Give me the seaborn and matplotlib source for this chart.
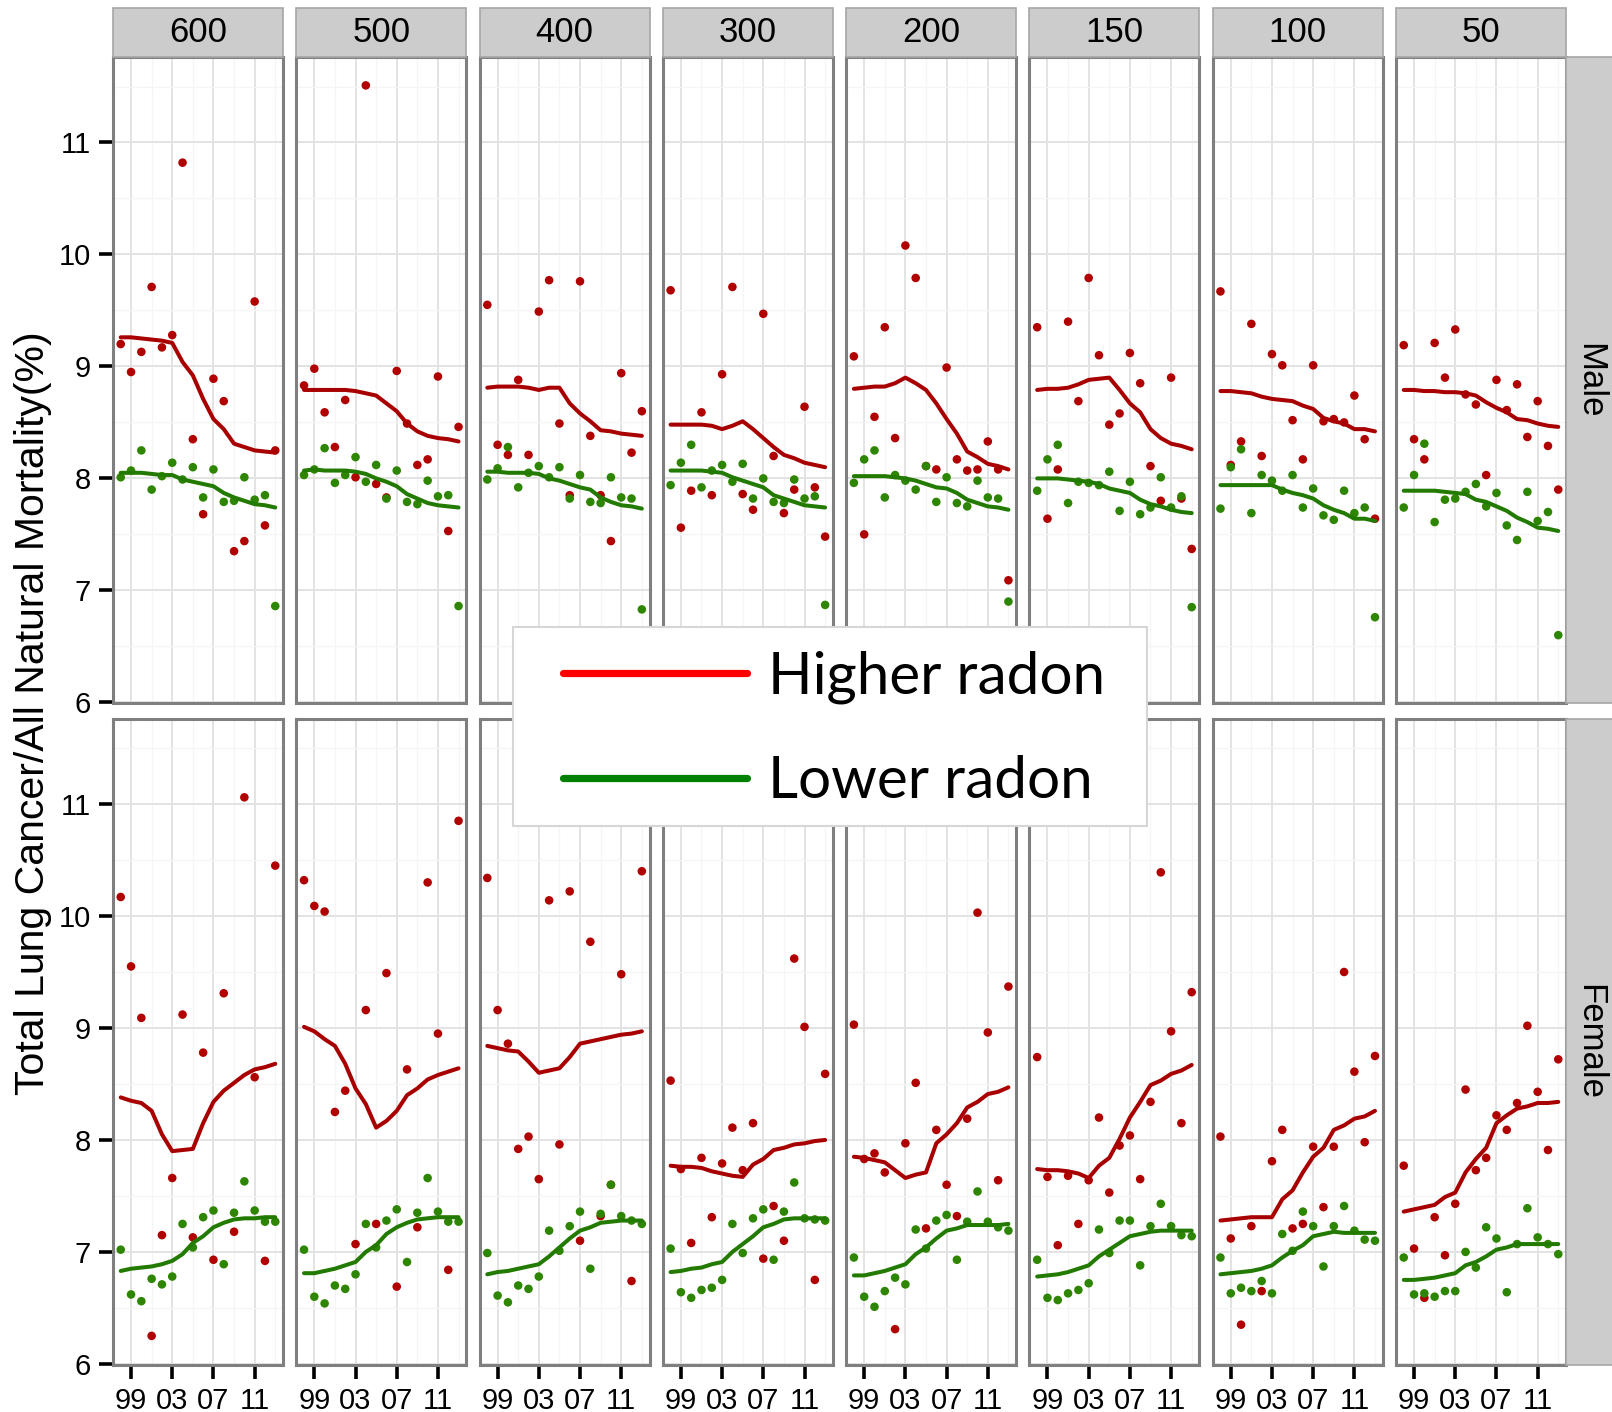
import matplotlib
matplotlib.use("Agg")
import pandas as pd
import matplotlib.pyplot as plt
from matplotlib.patches import Rectangle
from matplotlib.lines import Line2D
import seaborn as sns

sns.set_style("white", rc={"xtick.bottom": True, "ytick.left": True,
                           "text.color": "black", "xtick.color": "black",
                           "ytick.color": "black", "axes.labelcolor": "black"})
plt.rcParams["font.family"] = ["Liberation Sans", "DejaVu Sans"]

years = list(range(1998, 2014))
levels = ["600", "500", "400", "300", "200", "150", "100", "50"]
sexes = ["Male", "Female"]
groups = ["Higher radon", "Lower radon"]
xtick_years = [1999, 2003, 2007, 2011]
xtick_labels = ["99", "03", "07", "11"]
yticks = [6, 7, 8, 9, 10, 11]

# yearly values, one row per radon level (600 ... 50)
male_high_pts = [
    [9.20, 8.95, 9.13, 9.71, 9.17, 9.28, 10.82, 8.35, 7.68, 8.89, 8.69, 7.35, 7.44, 9.58, 7.58, 8.25],
    [8.83, 8.98, 8.59, 8.28, 8.70, 8.01, 11.51, 7.95, 7.83, 8.96, 8.49, 8.12, 8.17, 8.91, 7.53, 8.46],
    [9.55, 8.30, 8.21, 8.88, 8.21, 9.49, 9.77, 8.49, 7.85, 9.76, 8.38, 7.85, 7.44, 8.94, 8.23, 8.60],
    [9.68, 7.56, 7.89, 8.59, 7.85, 8.93, 9.71, 7.86, 7.72, 9.47, 8.20, 7.69, 7.90, 8.64, 7.92, 7.48],
    [9.09, 7.50, 8.55, 9.35, 8.36, 10.08, 9.79, 8.11, 8.08, 8.99, 8.17, 8.07, 8.08, 8.33, 8.08, 7.09],
    [9.35, 7.64, 8.08, 9.40, 8.69, 9.79, 9.10, 8.48, 8.58, 9.12, 8.85, 8.11, 7.80, 8.90, 7.82, 7.37],
    [9.67, 8.12, 8.33, 9.38, 8.20, 9.11, 9.01, 8.52, 8.17, 9.01, 8.51, 8.53, 8.50, 8.74, 8.35, 7.64],
    [9.19, 8.35, 8.17, 9.21, 8.90, 9.33, 8.75, 8.66, 8.03, 8.88, 8.61, 8.84, 8.37, 8.69, 8.29, 7.90],
]
male_low_pts = [
    [8.01, 8.07, 8.25, 7.90, 8.02, 8.14, 7.99, 8.10, 7.83, 8.08, 7.79, 7.80, 8.01, 7.81, 7.85, 6.86],
    [8.03, 8.08, 8.27, 7.96, 8.03, 8.19, 7.97, 8.12, 7.82, 8.07, 7.79, 7.77, 7.98, 7.84, 7.85, 6.86],
    [7.99, 8.09, 8.28, 7.92, 8.05, 8.11, 8.01, 8.10, 7.82, 8.03, 7.79, 7.78, 8.01, 7.83, 7.82, 6.83],
    [7.94, 8.14, 8.30, 7.92, 8.07, 8.12, 7.97, 8.13, 7.82, 8.00, 7.79, 7.78, 7.99, 7.82, 7.84, 6.87],
    [7.96, 8.17, 8.25, 7.83, 8.03, 7.98, 7.90, 8.11, 7.79, 8.01, 7.78, 7.75, 7.98, 7.83, 7.82, 6.90],
    [7.89, 8.17, 8.30, 7.78, 7.97, 7.96, 7.94, 8.06, 7.71, 7.97, 7.68, 7.74, 8.01, 7.74, 7.84, 6.85],
    [7.73, 8.10, 8.26, 7.69, 8.03, 7.98, 7.89, 8.03, 7.74, 7.91, 7.67, 7.63, 7.89, 7.69, 7.74, 6.76],
    [7.74, 8.03, 8.31, 7.61, 7.81, 7.82, 7.88, 7.95, 7.75, 7.87, 7.58, 7.45, 7.88, 7.62, 7.70, 6.60],
]
male_high_line = [
    [9.26, 9.26, 9.25, 9.24, 9.23, 9.21, 9.04, 8.92, 8.71, 8.53, 8.44, 8.31, 8.28, 8.25, 8.24, 8.23],
    [8.79, 8.79, 8.79, 8.79, 8.79, 8.78, 8.76, 8.74, 8.67, 8.60, 8.49, 8.42, 8.38, 8.36, 8.35, 8.33],
    [8.81, 8.82, 8.82, 8.82, 8.81, 8.79, 8.81, 8.81, 8.67, 8.58, 8.51, 8.43, 8.42, 8.40, 8.39, 8.38],
    [8.48, 8.48, 8.48, 8.48, 8.47, 8.44, 8.47, 8.51, 8.44, 8.36, 8.28, 8.21, 8.18, 8.14, 8.12, 8.10],
    [8.80, 8.81, 8.82, 8.82, 8.85, 8.90, 8.85, 8.79, 8.67, 8.53, 8.40, 8.24, 8.19, 8.13, 8.11, 8.08],
    [8.79, 8.80, 8.80, 8.81, 8.84, 8.88, 8.89, 8.90, 8.79, 8.67, 8.59, 8.44, 8.36, 8.31, 8.29, 8.26],
    [8.78, 8.78, 8.77, 8.76, 8.73, 8.71, 8.70, 8.69, 8.65, 8.62, 8.54, 8.51, 8.49, 8.44, 8.44, 8.42],
    [8.79, 8.79, 8.78, 8.78, 8.77, 8.77, 8.76, 8.74, 8.68, 8.63, 8.59, 8.53, 8.52, 8.49, 8.47, 8.46],
]
male_low_line = [
    [8.05, 8.05, 8.05, 8.04, 8.03, 8.03, 7.99, 7.97, 7.95, 7.93, 7.87, 7.83, 7.80, 7.77, 7.76, 7.74],
    [8.07, 8.08, 8.07, 8.07, 8.07, 8.06, 8.04, 8.00, 7.97, 7.93, 7.86, 7.82, 7.78, 7.76, 7.75, 7.74],
    [8.06, 8.06, 8.05, 8.05, 8.05, 8.04, 8.00, 7.98, 7.95, 7.92, 7.90, 7.83, 7.79, 7.76, 7.75, 7.73],
    [8.07, 8.07, 8.07, 8.07, 8.06, 8.05, 8.01, 7.98, 7.95, 7.92, 7.85, 7.82, 7.79, 7.76, 7.75, 7.74],
    [8.02, 8.02, 8.02, 8.02, 8.01, 8.00, 7.98, 7.95, 7.92, 7.91, 7.87, 7.81, 7.78, 7.75, 7.74, 7.72],
    [8.00, 8.00, 8.00, 7.99, 7.98, 7.97, 7.95, 7.91, 7.89, 7.87, 7.81, 7.77, 7.75, 7.72, 7.70, 7.69],
    [7.94, 7.94, 7.94, 7.94, 7.94, 7.94, 7.90, 7.87, 7.85, 7.82, 7.76, 7.72, 7.69, 7.64, 7.64, 7.62],
    [7.89, 7.89, 7.89, 7.89, 7.88, 7.87, 7.86, 7.81, 7.79, 7.75, 7.71, 7.65, 7.61, 7.56, 7.55, 7.53],
]
female_high_pts = [
    [10.17, 9.55, 9.09, 6.25, 7.15, 7.66, 9.12, 7.13, 8.78, 6.93, 9.31, 7.18, 11.06, 8.56, 6.92, 10.45],
    [10.32, 10.09, 10.04, 8.25, 8.44, 7.07, 9.16, 7.25, 9.49, 6.69, 8.63, 7.22, 10.30, 8.95, 6.84, 10.85],
    [10.34, 9.16, 8.86, 7.92, 8.03, 7.65, 10.14, 7.96, 10.22, 7.10, 9.77, 7.32, 7.60, 9.48, 6.74, 10.40],
    [8.53, 7.74, 7.08, 7.84, 7.31, 7.79, 8.11, 7.73, 8.15, 6.94, 7.41, 7.10, 9.62, 9.01, 6.75, 8.59],
    [9.03, 7.83, 7.88, 7.71, 6.31, 7.97, 8.51, 7.21, 8.09, 7.60, 7.32, 8.19, 10.03, 8.96, 7.64, 9.37],
    [8.74, 7.67, 7.06, 7.68, 7.25, 7.64, 8.20, 7.53, 7.95, 8.04, 7.65, 8.34, 10.39, 8.97, 8.15, 9.32],
    [8.03, 7.12, 6.35, 7.23, 6.65, 7.81, 8.09, 7.21, 7.25, 7.94, 7.40, 7.94, 9.50, 8.61, 7.98, 8.75],
    [7.77, 7.03, 6.59, 7.31, 6.97, 7.43, 8.45, 7.73, 7.84, 8.22, 8.09, 8.33, 9.02, 8.43, 7.91, 8.72],
]
female_low_pts = [
    [7.02, 6.62, 6.56, 6.76, 6.71, 6.78, 7.25, 7.04, 7.31, 7.37, 6.89, 7.35, 7.63, 7.37, 7.27, 7.27],
    [7.02, 6.60, 6.54, 6.70, 6.67, 6.80, 7.25, 7.04, 7.28, 7.38, 6.91, 7.35, 7.66, 7.36, 7.27, 7.27],
    [6.99, 6.61, 6.55, 6.70, 6.67, 6.78, 7.19, 7.01, 7.23, 7.36, 6.85, 7.34, 7.60, 7.32, 7.28, 7.25],
    [7.03, 6.64, 6.59, 6.66, 6.68, 6.75, 7.25, 6.99, 7.30, 7.38, 6.93, 7.36, 7.62, 7.30, 7.29, 7.28],
    [6.95, 6.60, 6.51, 6.65, 6.77, 6.71, 7.20, 7.03, 7.28, 7.33, 6.93, 7.27, 7.54, 7.27, 7.22, 7.19],
    [6.93, 6.59, 6.57, 6.63, 6.66, 6.72, 7.20, 6.99, 7.28, 7.28, 6.88, 7.23, 7.43, 7.23, 7.15, 7.14],
    [6.95, 6.63, 6.68, 6.65, 6.74, 6.63, 7.16, 7.01, 7.36, 7.23, 6.87, 7.23, 7.41, 7.19, 7.11, 7.10],
    [6.95, 6.62, 6.63, 6.60, 6.65, 6.65, 7.00, 6.86, 7.22, 7.12, 6.64, 7.07, 7.39, 7.13, 7.07, 6.98],
]
female_high_line = [
    [8.38, 8.35, 8.33, 8.26, 8.05, 7.90, 7.91, 7.92, 8.15, 8.34, 8.44, 8.51, 8.58, 8.63, 8.65, 8.68],
    [9.01, 8.97, 8.90, 8.84, 8.68, 8.46, 8.32, 8.11, 8.17, 8.26, 8.40, 8.46, 8.54, 8.58, 8.61, 8.64],
    [8.84, 8.82, 8.80, 8.79, 8.70, 8.60, 8.62, 8.64, 8.74, 8.86, 8.88, 8.90, 8.92, 8.94, 8.95, 8.97],
    [7.77, 7.76, 7.76, 7.75, 7.72, 7.70, 7.68, 7.67, 7.78, 7.83, 7.91, 7.93, 7.96, 7.97, 7.99, 8.00],
    [7.85, 7.84, 7.82, 7.80, 7.73, 7.66, 7.69, 7.71, 7.97, 8.05, 8.15, 8.29, 8.34, 8.41, 8.43, 8.47],
    [7.74, 7.73, 7.73, 7.72, 7.70, 7.66, 7.77, 7.84, 8.01, 8.20, 8.34, 8.49, 8.53, 8.59, 8.62, 8.67],
    [7.28, 7.29, 7.30, 7.31, 7.31, 7.31, 7.47, 7.55, 7.71, 7.85, 7.93, 8.09, 8.13, 8.19, 8.21, 8.26],
    [7.36, 7.38, 7.40, 7.42, 7.49, 7.53, 7.71, 7.83, 7.93, 8.15, 8.22, 8.28, 8.30, 8.33, 8.33, 8.34],
]
female_low_line = [
    [6.83, 6.85, 6.86, 6.87, 6.89, 6.92, 6.98, 7.08, 7.14, 7.22, 7.26, 7.29, 7.30, 7.30, 7.31, 7.31],
    [6.81, 6.81, 6.83, 6.85, 6.88, 6.91, 7.00, 7.06, 7.16, 7.22, 7.26, 7.29, 7.30, 7.31, 7.31, 7.31],
    [6.80, 6.82, 6.83, 6.85, 6.87, 6.89, 6.96, 7.04, 7.12, 7.19, 7.22, 7.26, 7.27, 7.28, 7.28, 7.28],
    [6.82, 6.83, 6.85, 6.86, 6.89, 6.91, 7.00, 7.07, 7.14, 7.22, 7.25, 7.29, 7.30, 7.30, 7.30, 7.30],
    [6.79, 6.79, 6.81, 6.83, 6.86, 6.89, 6.98, 7.04, 7.12, 7.19, 7.21, 7.24, 7.24, 7.24, 7.24, 7.25],
    [6.78, 6.79, 6.80, 6.82, 6.85, 6.88, 6.96, 7.02, 7.08, 7.14, 7.16, 7.18, 7.19, 7.19, 7.19, 7.19],
    [6.80, 6.81, 6.82, 6.83, 6.85, 6.88, 6.95, 7.01, 7.06, 7.14, 7.16, 7.18, 7.17, 7.17, 7.17, 7.17],
    [6.75, 6.75, 6.76, 6.77, 6.79, 6.81, 6.88, 6.91, 6.96, 7.02, 7.04, 7.07, 7.07, 7.07, 7.07, 7.07],
]

# long table
rows = []
series = [
    ("Male", "Higher radon", "points", male_high_pts),
    ("Male", "Lower radon", "points", male_low_pts),
    ("Male", "Higher radon", "smooth", male_high_line),
    ("Male", "Lower radon", "smooth", male_low_line),
    ("Female", "Higher radon", "points", female_high_pts),
    ("Female", "Lower radon", "points", female_low_pts),
    ("Female", "Higher radon", "smooth", female_high_line),
    ("Female", "Lower radon", "smooth", female_low_line),
]
for sex, grp, kind, table in series:
    for lev, vals in zip(levels, table):
        for yr, v in zip(years, vals):
            rows.append(dict(sex=sex, level=lev, group=grp, kind=kind, year=yr, value=v))
df = pd.DataFrame(rows)

pt_colors = {"Higher radon": "#B00000", "Lower radon": "#2D8500"}
line_colors = {"Higher radon": "#A80000", "Lower radon": "#237A00"}

W, H = 1612, 1412
g = sns.FacetGrid(df, row="sex", col="level", row_order=sexes, col_order=levels,
                  sharex=True, sharey=True, despine=False, margin_titles=True,
                  height=3, aspect=0.3)
fig = g.figure
fig.set_size_inches(W / 100, H / 100)
fig.subplots_adjust(left=113 / W, right=1566 / W, top=1 - 57.4 / H, bottom=1 - 1365 / H,
                    wspace=13.3 / 170, hspace=15.5 / 646)

for (sex, lev), ax in g.axes_dict.items():
    sub = df[(df.sex == sex) & (df.level == lev)]
    sns.scatterplot(data=sub[sub.kind == "points"], x="year", y="value", hue="group",
                    hue_order=groups, palette=pt_colors, s=38, linewidth=0,
                    legend=False, ax=ax, zorder=3)
    sns.lineplot(data=sub[sub.kind == "smooth"], x="year", y="value", hue="group",
                 hue_order=groups, palette=line_colors, linewidth=2.9, errorbar=None,
                 legend=False, ax=ax, zorder=4)

g.set_titles(row_template="", col_template="")
g.set_axis_labels("", "")

for i, sex in enumerate(sexes):
    for j, lev in enumerate(levels):
        ax = g.axes[i, j]
        ax.set_facecolor("white")
        ax.set_xlim(1997.25, 2013.75)
        ax.set_ylim(5.99, 11.76)
        ax.set_xticks(xtick_years)
        ax.set_xticklabels(xtick_labels)
        ax.set_xticks([2001, 2005, 2009, 2013], minor=True)
        ax.set_yticks(yticks)
        ax.set_yticks([6.5, 7.5, 8.5, 9.5, 10.5, 11.5], minor=True)
        ax.set_axisbelow(True)
        ax.grid(which="major", color="#E3E3E3", linewidth=1.4)
        ax.grid(which="minor", color="#F5F5F5", linewidth=1.0)
        for sp in ax.spines.values():
            sp.set_color("#7F7F7F")
            sp.set_linewidth(2.2)
        ax.tick_params(which="major", direction="out", length=10, width=2.6,
                       color="black", labelcolor="black", labelsize=21, pad=6,
                       bottom=True, left=True)
        ax.tick_params(which="minor", length=0)
        if i == 0:
            ax.tick_params(axis="x", length=0, labelbottom=False)
            ax.add_patch(Rectangle((0, 1), 1, 49 / 646, transform=ax.transAxes,
                                   facecolor="#CCCCCC", edgecolor="#A6A6A6",
                                   linewidth=1.2, clip_on=False, zorder=5))
            ax.text(0.5, 1 + 24.5 / 646, lev, transform=ax.transAxes, ha="center",
                    va="center", fontsize=25, color="black", zorder=6, clip_on=False)
        if j > 0:
            ax.tick_params(axis="y", length=0, labelleft=False)
        if j == len(levels) - 1:
            ax.add_patch(Rectangle((1, 0), 48 / 170, 1, transform=ax.transAxes,
                                   facecolor="#CCCCCC", edgecolor="#A6A6A6",
                                   linewidth=1.2, clip_on=False, zorder=5))
            ax.text(1 + 24 / 170, 0.5, sex, transform=ax.transAxes, ha="center",
                    va="center", rotation=-90, fontsize=25, color="black",
                    zorder=6, clip_on=False)

fig.text(33 / W, 1 - 713 / H, "Total Lung Cancer/All Natural Mortality(%)",
         rotation=90, ha="center", va="center", fontsize=29.5, color="black")

# legend box drawn separately so that its padding matches the original
fig.add_artist(Rectangle((513 / W, 1 - 826 / H), 634 / W, 199 / H,
                         transform=fig.transFigure, facecolor="white",
                         edgecolor="#D6D6D6", linewidth=1.5, zorder=4))
handles = [Line2D([], [], color="#FF0000", linewidth=5.2),
           Line2D([], [], color="#008000", linewidth=5.2)]
leg = fig.legend(handles, groups, loc="center", bbox_to_anchor=(834 / W, 1 - 729 / H),
                 prop={"family": "Lato", "size": 42}, handlelength=3.15,
                 handletextpad=0.36, labelspacing=0.88, borderpad=0,
                 frameon=False)
leg.set_zorder(5)
for t in leg.get_texts():
    t.set_color("black")

fig.savefig("out.png", dpi=100)
